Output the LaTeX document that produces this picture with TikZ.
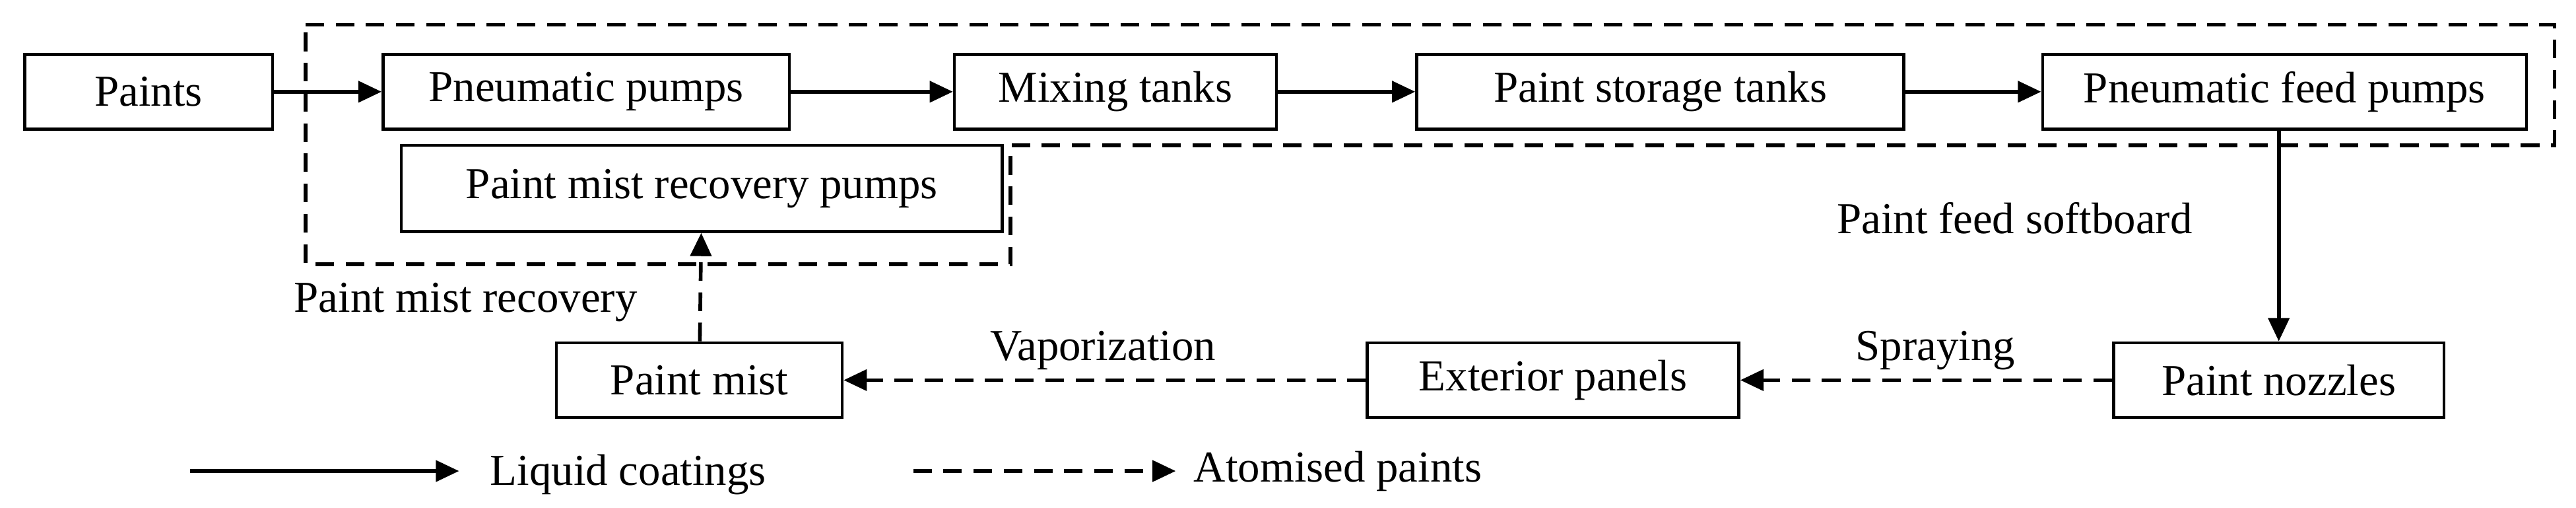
\documentclass[tikz,border=0pt]{standalone}
\usepackage{fontspec}
\setmainfont{Liberation Serif}
\usetikzlibrary{arrows.meta}
\begin{document}
\begin{tikzpicture}[x=0.025cm,y=-0.025cm,
  box/.style={draw,line width=1.3pt,minimum height=1.13cm,inner sep=0pt,font=\fontsize{19}{22}\selectfont},
  lab/.style={font=\fontsize{19}{22}\selectfont},
  sol/.style={line width=1.6pt,-{Triangle[length=10pt,width=9pt]}},
  das/.style={line width=1.6pt,dash pattern=on 8pt off 5pt,-{Triangle[length=10pt,width=9pt]}}]
\useasboundingbox (0,0) rectangle (1560,307);
\draw[line width=1.6pt,dash pattern=on 8pt off 5pt] (185,15) -- (1547,15) -- (1547,88) -- (612,88) -- (612,160) -- (185,160) -- cycle;
\node[box,minimum width=150*0.025cm] (p) at (90,55.5) {Paints};
\node[box,minimum width=246*0.025cm] (pp) at (355,55.5) {Pneumatic pumps};
\node[box,minimum width=195*0.025cm] (mt) at (675.5,55.5) {Mixing tanks};
\node[box,minimum width=295*0.025cm] (st) at (1005.5,55.5) {Paint storage tanks};
\node[box,minimum width=293*0.025cm] (fp) at (1383.5,55.5) {Pneumatic feed pumps};
\node[box,minimum width=364*0.025cm,minimum height=1.3cm] (rp) at (425,114) {Paint mist recovery pumps};
\node[box,minimum width=173*0.025cm] (pm) at (423.5,230) {Paint mist};
\node[box,minimum width=225*0.025cm] (ep) at (940.5,230) {Exterior panels};
\node[box,minimum width=200*0.025cm] (pn) at (1380,230) {Paint nozzles};
\draw[sol] (p) -- (pp);
\draw[sol] (pp) -- (mt);
\draw[sol] (mt) -- (st);
\draw[sol] (st) -- (fp);
\draw[sol] (fp.south -| pn.north) -- (pn.north);
\draw[das] (pn) -- (ep);
\draw[das] (ep) -- (pm);
\draw[das] (pm) -- (rp);
\node[lab] (l1) at (1220,132) {Paint feed softboard};
\node[lab] (l2) at (1172,212) {Spraying};
\node[lab] (l3) at (668,212) {Vaporization};
\node[lab] (l4) at (282,183) {Paint mist recovery};
\coordinate (a1) at (115,285); \coordinate (a2) at (278,285);
\coordinate (b1) at (553,285); \coordinate (b2) at (712,285);
\draw[sol] (a1) -- (a2);
\draw[das] (b1) -- (b2);
\node[lab,anchor=west] (t1) at (292,287) {Liquid coatings};
\node[lab,anchor=west] (t2) at (718,285) {Atomised paints};
\end{tikzpicture}
\end{document}
